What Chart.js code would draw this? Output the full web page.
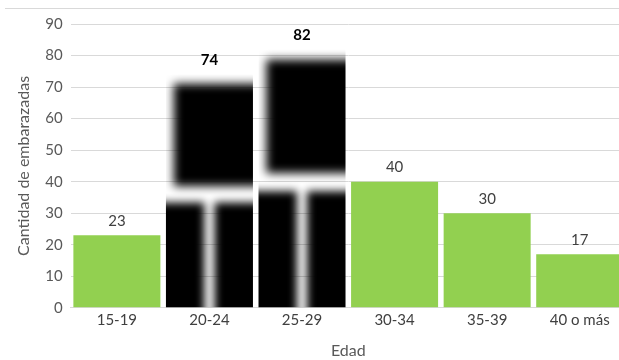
<!DOCTYPE html>
<html>
<head>
<meta charset="utf-8">
<script src="https://cdn.jsdelivr.net/npm/chart.js@4/dist/chart.umd.min.js"></script>
<style>
  html, body { margin: 0; padding: 0; background: #fff; overflow: hidden; }
  #wrap { position: relative; width: 626px; height: 360px; }
  #topline { position: absolute; left: 5px; top: 8px; width: 621px; border-top: 1px solid #d9d9d9; }
</style>
</head>
<body>
<div id="wrap">
  <div id="topline"></div>
  <canvas id="chart" width="626" height="360"></canvas>
</div>
<script>
const categories = ["15-19", "20-24", "25-29", "30-34", "35-39", "40 o más"];
const counts = [23, 74, 82, 40, 30, 17];
const yTicks = [0, 10, 20, 30, 40, 50, 60, 70, 80, 90];

const FONT = "Lato, 'Open Sans', sans-serif";
const GREEN = "#92d050";
// the two middle bars are filled with a dark picture in the original
const pictureBars = [1, 2];

// draws the blurry dark picture fill inside a bar
function drawPicture(ctx, bar) {
  const left = bar.x - bar.width / 2;
  const right = bar.x + bar.width / 2;
  const top = bar.y;
  const base = bar.base;
  const w = right - left;
  const h = base - top;
  ctx.save();
  ctx.beginPath();
  ctx.rect(left, top, w, h);
  ctx.clip();
  ctx.fillStyle = "#000";
  // upper block
  ctx.filter = "blur(5px)";
  ctx.fillRect(left + 0.09 * w, top + 0.04 * h, w * 0.91 + 12, 0.44 * h);
  // lower two legs
  ctx.filter = "blur(4px)";
  const legTop = top + 0.55 * h;
  ctx.fillRect(left - 12, legTop, bar.x - 5 - left + 12, base - legTop + 12);
  ctx.fillRect(bar.x + 5, legTop, right - bar.x - 5 + 12, base - legTop + 12);
  ctx.filter = "none";
  ctx.restore();
}

const valueLabels = {
  id: "valueLabels",
  afterDatasetsDraw(chart) {
    const ctx = chart.ctx;
    const meta = chart.getDatasetMeta(0);
    meta.data.forEach((bar, i) => {
      if (pictureBars.includes(i)) drawPicture(ctx, bar);
    });
    ctx.save();
    ctx.textAlign = "center";
    ctx.textBaseline = "bottom";
    meta.data.forEach((bar, i) => {
      const bold = pictureBars.includes(i);
      ctx.font = (bold ? "bold " : "") + "15px " + FONT;
      ctx.fillStyle = bold ? "#000" : "#404040";
      ctx.fillText(String(counts[i]), bar.x, bar.y - 7);
    });
    ctx.restore();
  }
};

new Chart(document.getElementById("chart").getContext("2d"), {
  type: "bar",
  data: {
    labels: categories,
    datasets: [{
      data: counts,
      backgroundColor: ctx => pictureBars.includes(ctx.dataIndex) ? "rgba(0,0,0,0)" : GREEN,
      categoryPercentage: 1,
      barPercentage: 0.94
    }]
  },
  options: {
    responsive: false,
    animation: false,
    layout: { padding: { top: 24, left: 10, right: 0, bottom: 0 } },
    plugins: {
      legend: { display: false },
      tooltip: { enabled: false }
    },
    scales: {
      x: {
        grid: { display: false, drawTicks: false },
        border: { display: true, color: "#d9d9d9" },
        ticks: { color: "#404040", font: { family: FONT, size: 15 }, padding: 3 },
        title: { display: true, text: "Edad", color: "#595959", font: { family: FONT, size: 16 }, padding: { top: 9, bottom: 0 } }
      },
      y: {
        min: 0,
        max: 90,
        afterBuildTicks(axis) { axis.ticks = yTicks.map(v => ({ value: v })); },
        grid: { color: "#d9d9d9", drawTicks: false },
        border: { display: false },
        ticks: { color: "#595959", font: { family: FONT, size: 15 }, padding: 8 },
        title: { display: true, text: "Cantidad de embarazadas", color: "#595959", font: { family: FONT, size: 16 }, padding: { bottom: 4 } }
      }
    }
  },
  plugins: [valueLabels]
});
</script>
</body>
</html>
